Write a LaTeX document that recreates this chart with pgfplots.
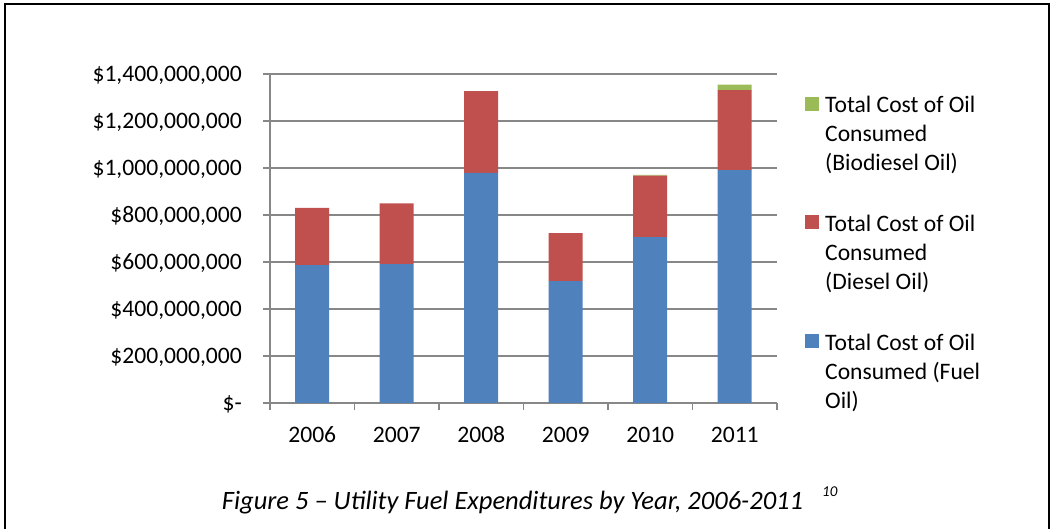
\documentclass[border=0pt]{standalone}
\usepackage{pgfplots}
\pgfplotsset{compat=1.18}
\usepackage{fontspec}
\setmainfont{Carlito}
\definecolor{fuel}{HTML}{4F81BD}
\definecolor{diesel}{HTML}{C0504D}
\definecolor{bio}{HTML}{9BBB59}
\definecolor{gridc}{HTML}{878787}
\begin{document}
\fontsize{23.6}{29}\selectfont
\begin{tikzpicture}[x=1pt,y=1pt]
\useasboundingbox (0,0) rectangle (1050,529);
\draw[line width=2pt] (5,0) -- (5,524.7) -- (1049,524.7) -- (1049,0);
\begin{axis}[
  at={(270pt,126pt)}, anchor=south west,
  width=507pt, height=329pt, scale only axis,
  ybar stacked, bar width=34pt,
  xmin=-0.5, xmax=5.5, ymin=0, ymax=1400,
  axis x line*=bottom, axis y line*=left,
  xtick={0,1,2,3,4,5},
  xticklabels={2006,2007,2008,2009,2010,2011},
  minor xtick={-0.5,0.5,1.5,2.5,3.5,4.5,5.5},
  major x tick style={draw=none},
  ytick={0,200,400,600,800,1000,1200,1400},
  yticklabels={{\$-\hspace{21pt}},{\$200,000,000},{\$400,000,000},{\$600,000,000},{\$800,000,000},{\$1,000,000,000},{\$1,200,000,000},{\$1,400,000,000}},
  tick align=outside, major tick length=7pt, minor tick length=7pt,
  ymajorgrids,
  grid style={gridc, line width=1.2pt},
  axis line style={gridc, line width=1.2pt},
  tick style={gridc, line width=1.2pt},
  yticklabel style={anchor=base east, inner sep=0pt, xshift=-21pt, yshift=-7.6pt},
  xticklabel style={anchor=base, inner sep=0pt, yshift=-32.3pt},
  reverse legend,
  legend style={at={(1.0552,0.944)}, anchor=north west, draw=none, fill=none,
    inner sep=0pt, row sep=95pt, column sep=6pt, nodes={inner sep=0pt}},
  legend cell align=left,
]
\addplot[fill=fuel, draw=none, legend image code/.code={\fill[fuel] (0pt,-6pt) rectangle (14pt,8pt);}]
  coordinates {(0,587) (1,591) (2,979) (3,519) (4,706) (5,991)};
\addlegendentry{\begin{tabular}[t]{@{}l@{}}Total Cost of Oil\\Consumed (Fuel\\Oil)\end{tabular}}
\addplot[fill=diesel, draw=none, legend image code/.code={\fill[diesel] (0pt,-6pt) rectangle (14pt,8pt);}]
  coordinates {(0,243) (1,258) (2,348) (3,204) (4,261) (5,340)};
\addlegendentry{\begin{tabular}[t]{@{}l@{}}Total Cost of Oil\\Consumed\\(Diesel Oil)\end{tabular}}
\addplot[fill=bio, draw=none, legend image code/.code={\fill[bio] (0pt,-6pt) rectangle (14pt,8pt);}]
  coordinates {(0,0) (1,0) (2,0) (3,0) (4,4) (5,24)};
\addlegendentry{\begin{tabular}[t]{@{}l@{}}Total Cost of Oil\\Consumed\\(Biodiesel Oil)\end{tabular}}
\end{axis}
\node[anchor=base, inner sep=0pt, font=\fontsize{26.5}{30}\selectfont\itshape] at (512.5,19) {Figure 5 – Utility Fuel Expenditures by Year, 2006-2011};
\node[anchor=base west, inner sep=0pt, font=\fontsize{15}{18}\selectfont\itshape] at (822,32.3) {10};
\end{tikzpicture}
\end{document}
